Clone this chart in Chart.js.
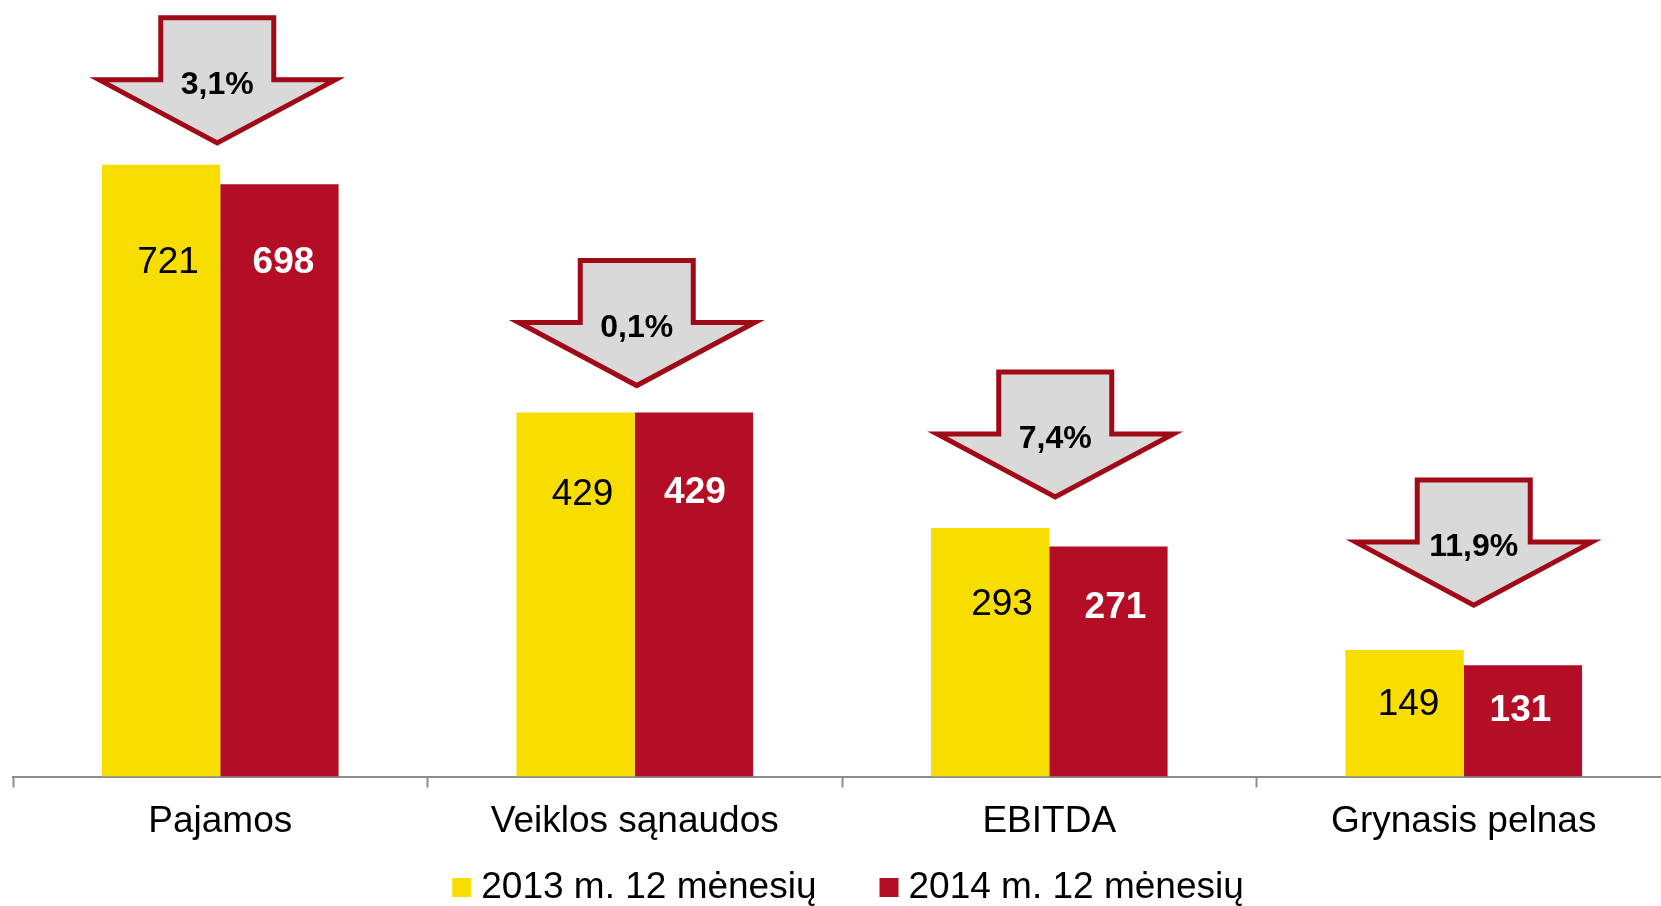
<!DOCTYPE html>
<html>
<head>
<meta charset="utf-8">
<script src="https://cdn.jsdelivr.net/npm/chart.js@4.4.1/dist/chart.umd.min.js"></script>
<style>
  html, body { margin: 0; padding: 0; background: #fff; overflow: hidden; }
  #wrap { width: 1661px; height: 906px; overflow: hidden; }
  canvas { display: block; }
</style>
</head>
<body>
<div id="wrap"><canvas id="chart" width="1675" height="906"></canvas></div>
<script>
const categories = ['Pajamos', 'Veiklos sąnaudos', 'EBITDA', 'Grynasis pelnas']
const values2013 = [721, 429, 293, 149]
const values2014 = [698, 429, 271, 131]
const changeLabels = ['3,1%', '0,1%', '7,4%', '11,9%']
const seriesLabels = ['2013 m. 12 mėnesių', '2014 m. 12 mėnesių']

const YELLOW = '#f8dd00'
const RED = '#b30e25'
const FONT = '"Liberation Sans", Arial, sans-serif'

// value labels sit where the original put them by hand (px from bar top / centre)
const labelNudge = [
  { dx: [7, 7, 12, 4], dy: [108, 92, 87, 65], color: '#000', weight: 'normal' },
  { dx: [4, 1, 7, -2.5], dy: [89, 90, 71, 56], color: '#fff', weight: 'bold' },
]

function drawArrow(ctx, cx, tip) {
  // outline drawn inside the outer edge, 5px stroke
  const top = tip - 128
  const wing = tip - 66
  ctx.beginPath()
  ctx.moveTo(cx - 56.5, top)
  ctx.lineTo(cx + 56.5, top)
  ctx.lineTo(cx + 56.5, wing)
  ctx.lineTo(cx + 118, wing)
  ctx.lineTo(cx, tip - 3)
  ctx.lineTo(cx - 118, wing)
  ctx.lineTo(cx - 56.5, wing)
  ctx.closePath()
  ctx.fillStyle = '#d9d9d9'
  ctx.fill()
  ctx.lineWidth = 5
  ctx.lineJoin = 'miter'
  ctx.strokeStyle = '#a00a17'
  ctx.stroke()
}

const overlayPlugin = {
  id: 'overlay',
  afterDraw(chart, args, opts) {
    const ctx = chart.ctx
    const a = chart.getDatasetMeta(0).data
    const b = chart.getDatasetMeta(1).data
    ctx.save()

    // value labels
    ;[a, b].forEach((bars, d) => {
      const n = labelNudge[d]
      const vals = d === 0 ? values2013 : values2014
      ctx.font = n.weight + ' 37px ' + FONT
      ctx.fillStyle = n.color
      ctx.textAlign = 'center'
      ctx.textBaseline = 'alphabetic'
      bars.forEach((bar, i) => {
        ctx.fillText(String(vals[i]), bar.x + n.dx[i], bar.y + n.dy[i])
      })
    })

    // change arrows above each pair
    categories.forEach((c, i) => {
      const top = Math.min(a[i].y, b[i].y)
      const cx = (a[i].x + b[i].x) / 2 + opts.dx[i]
      const tip = top - opts.gap[i]
      drawArrow(ctx, cx, tip)
      ctx.font = 'bold 32px ' + FONT
      ctx.fillStyle = '#000'
      ctx.textAlign = 'center'
      ctx.textBaseline = 'alphabetic'
      ctx.fillText(changeLabels[i], cx, tip - 52)
    })

    // legend
    const colors = [YELLOW, RED]
    ctx.font = '37px ' + FONT
    ctx.textAlign = 'left'
    ctx.textBaseline = 'alphabetic'
    const widths = seriesLabels.map((t) => ctx.measureText(t).width)
    const total = widths[0] + widths[1] + 2 * 29 + 63
    let x = (chart.chartArea.left + chart.chartArea.right) / 2 + 6 - total / 2
    seriesLabels.forEach((t, i) => {
      ctx.fillStyle = colors[i]
      ctx.fillRect(x, 878, 19, 19)
      ctx.fillStyle = '#000'
      ctx.fillText(t, x + 29, 898)
      x += 29 + widths[i] + 63
    })
    ctx.restore()
  },
}

new Chart(document.getElementById('chart'), {
  type: 'bar',
  data: {
    labels: categories,
    datasets: [
      { label: seriesLabels[0], data: values2013, backgroundColor: YELLOW },
      { label: seriesLabels[1], data: values2014, backgroundColor: RED },
    ],
  },
  options: {
    responsive: false,
    animation: false,
    layout: { padding: { left: 13, right: 4, top: 13, bottom: 0 } },
    datasets: { bar: { categoryPercentage: 0.571, barPercentage: 1 } },
    scales: {
      x: {
        grid: {
          display: true,
          drawOnChartArea: false,
          drawTicks: true,
          tickLength: 11,
          tickWidth: 2,
          tickColor: '#8c8c8c',
          offset: true,
        },
        border: { display: true, color: '#8c8c8c', width: 2 },
        ticks: { color: '#000', font: { family: FONT, size: 37 }, padding: 12 },
        // room for the legend underneath
        afterFit(scale) {
          scale.height = 129.5
        },
      },
      y: { display: false, min: 0, max: 900 },
    },
    plugins: {
      legend: { display: false },
      tooltip: { enabled: false },
      overlay: { dx: [-3, 2, 6, 10], gap: [19, 24, 28, 42] },
    },
  },
  plugins: [overlayPlugin],
})
</script>
</body>
</html>
